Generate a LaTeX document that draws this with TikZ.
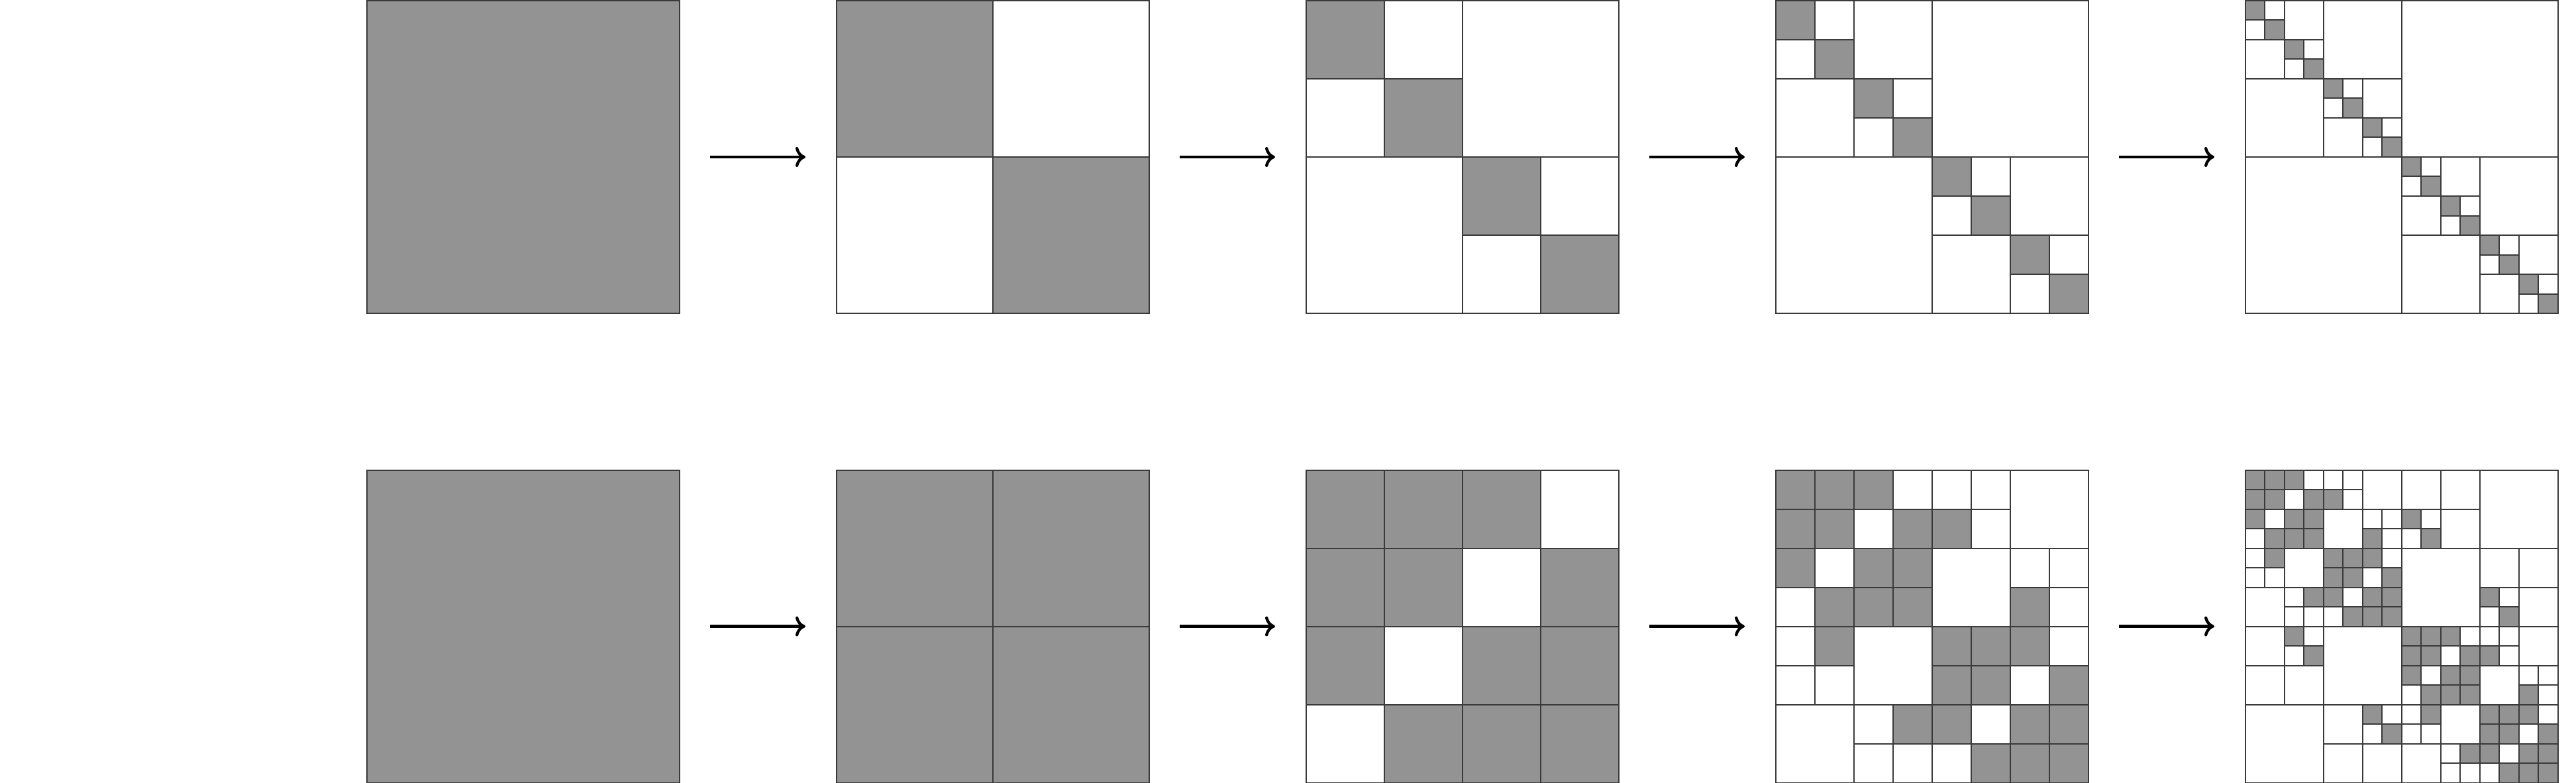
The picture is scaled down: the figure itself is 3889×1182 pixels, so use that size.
\documentclass[tikz,border=0pt]{standalone}
\usetikzlibrary{arrows.meta}
\definecolor{cellgray}{RGB}{147,147,147}
\definecolor{linegray}{RGB}{58,58,58}
\tikzset{
  sq/.style={rectangle, minimum width=472pt, minimum height=472pt, inner sep=0pt, outer sep=0pt, anchor=north west, draw=none},
  gl/.style={draw=linegray, line width=2pt},
  cellfill/.style={fill=cellgray},
  arr/.style={line width=4.3pt, -{To[length=15pt,width=30pt]}},
}
\newcommand\crossat[5]{% x0 y0 size row col
  \draw[gl] ({#1+(#5+0.5)*#3},{#2+#4*#3}) -- ++(0,#3);
  \draw[gl] ({#1+#5*#3},{#2+(#4+0.5)*#3}) -- ++(#3,0);
}
\newcommand\fillcells[4]{\foreach \rr/\cc in #4 {\fill[cellfill] ({#1+\cc*#3},{#2+\rr*#3}) rectangle ++(#3,#3);}}
\newcommand\crosscells[4]{\foreach \rr/\cc in #4 {\crossat{#1}{#2}{#3}{\rr}{\cc}}}
\newcommand\topmat[3]{%
  \pgfmathtruncatemacro\mynL{2^(#3)-1}%
  \pgfmathsetmacro\mysL{472/2^(#3)}%
  \foreach \i in {0,...,\mynL}{\fill[cellfill] ({#1+\i*\mysL},{#2+\i*\mysL}) rectangle ++(\mysL,\mysL);}%
  \foreach \lv in {1,...,#3}{%
    \pgfmathtruncatemacro\mynp{2^(\lv-1)-1}%
    \pgfmathsetmacro\mysp{472/2^(\lv-1)}%
    \foreach \i in {0,...,\mynp}{\crossat{#1}{#2}{\mysp}{\i}{\i}}%
  }%
}
\def\GoneList{0/0,0/1,1/0,1/1}
\def\GtwoList{0/0,0/1,0/2,1/0,1/1,1/3,2/0,2/2,2/3,3/1,3/2,3/3}
\def\GthreeList{0/0,0/1,0/2,1/0,1/1,1/3,1/4,2/0,2/2,2/3,3/1,3/2,3/3,3/6,4/1,4/4,4/5,4/6,5/4,5/5,5/7,6/3,6/4,6/6,6/7,7/5,7/6,7/7}
\def\GfourList{0/0,0/1,0/2,1/0,1/1,1/3,1/4,2/0,2/2,2/3,2/8,3/1,3/2,3/3,3/6,3/9,4/1,4/4,4/5,4/6,5/4,5/5,5/7,6/3,6/4,6/6,6/7,6/12,7/5,7/6,7/7,7/13,8/2,8/8,8/9,8/10,9/3,9/8,9/9,9/11,9/12,10/8,10/10,10/11,11/9,11/10,11/11,11/14,12/6,12/9,12/12,12/13,12/14,13/7,13/12,13/13,13/15,14/11,14/12,14/14,14/15,15/13,15/14,15/15}
\begin{document}
\begin{tikzpicture}[x=1pt,y=-1pt]
\useasboundingbox (0,0) rectangle (3889,1182);
% ---- squares as nodes ----
\node[sq, fill=cellgray] (t0) at (553.5,1) {};
\node[sq, fill=white]    (t1) at (1262.5,1) {};
\node[sq, fill=white]    (t2) at (1971.5,1) {};
\node[sq, fill=white]    (t3) at (2680.5,1) {};
\node[sq, fill=white]    (t4) at (3389.5,1) {};
\node[sq, fill=cellgray] (b0) at (553.5,709.5) {};
\node[sq, fill=cellgray] (b1) at (1262.5,709.5) {};
\node[sq, fill=white]    (b2) at (1971.5,709.5) {};
\node[sq, fill=white]    (b3) at (2680.5,709.5) {};
\node[sq, fill=white]    (b4) at (3389.5,709.5) {};
% ---- top row ----
\topmat{1262.5}{1}{1}
\topmat{1971.5}{1}{2}
\topmat{2680.5}{1}{3}
\topmat{3389.5}{1}{4}
% ---- bottom row ----
\crossat{1262.5}{709.5}{472}{0}{0}
% level 2
\fillcells{1971.5}{709.5}{118}{\GtwoList}
\crossat{1971.5}{709.5}{472}{0}{0}
\crosscells{1971.5}{709.5}{236}{\GoneList}
% level 3
\fillcells{2680.5}{709.5}{59}{\GthreeList}
\crossat{2680.5}{709.5}{472}{0}{0}
\crosscells{2680.5}{709.5}{236}{\GoneList}
\crosscells{2680.5}{709.5}{118}{\GtwoList}
% level 4
\fillcells{3389.5}{709.5}{29.5}{\GfourList}
\crossat{3389.5}{709.5}{472}{0}{0}
\crosscells{3389.5}{709.5}{236}{\GoneList}
\crosscells{3389.5}{709.5}{118}{\GtwoList}
\crosscells{3389.5}{709.5}{59}{\GthreeList}
% ---- borders ----
\foreach \n in {t0,t1,t2,t3,t4,b0,b1,b2,b3,b4}{\draw[gl] (\n.north west) rectangle (\n.south east);}
% ---- arrows ----
\draw[arr] ([xshift=46.5pt]t0.east) -- ([xshift=-46.5pt]t1.west);
\draw[arr] ([xshift=46.5pt]t1.east) -- ([xshift=-46.5pt]t2.west);
\draw[arr] ([xshift=46.5pt]t2.east) -- ([xshift=-46.5pt]t3.west);
\draw[arr] ([xshift=46.5pt]t3.east) -- ([xshift=-46.5pt]t4.west);
\draw[arr] ([xshift=46.5pt]b0.east) -- ([xshift=-46.5pt]b1.west);
\draw[arr] ([xshift=46.5pt]b1.east) -- ([xshift=-46.5pt]b2.west);
\draw[arr] ([xshift=46.5pt]b2.east) -- ([xshift=-46.5pt]b3.west);
\draw[arr] ([xshift=46.5pt]b3.east) -- ([xshift=-46.5pt]b4.west);
\end{tikzpicture}
\end{document}
